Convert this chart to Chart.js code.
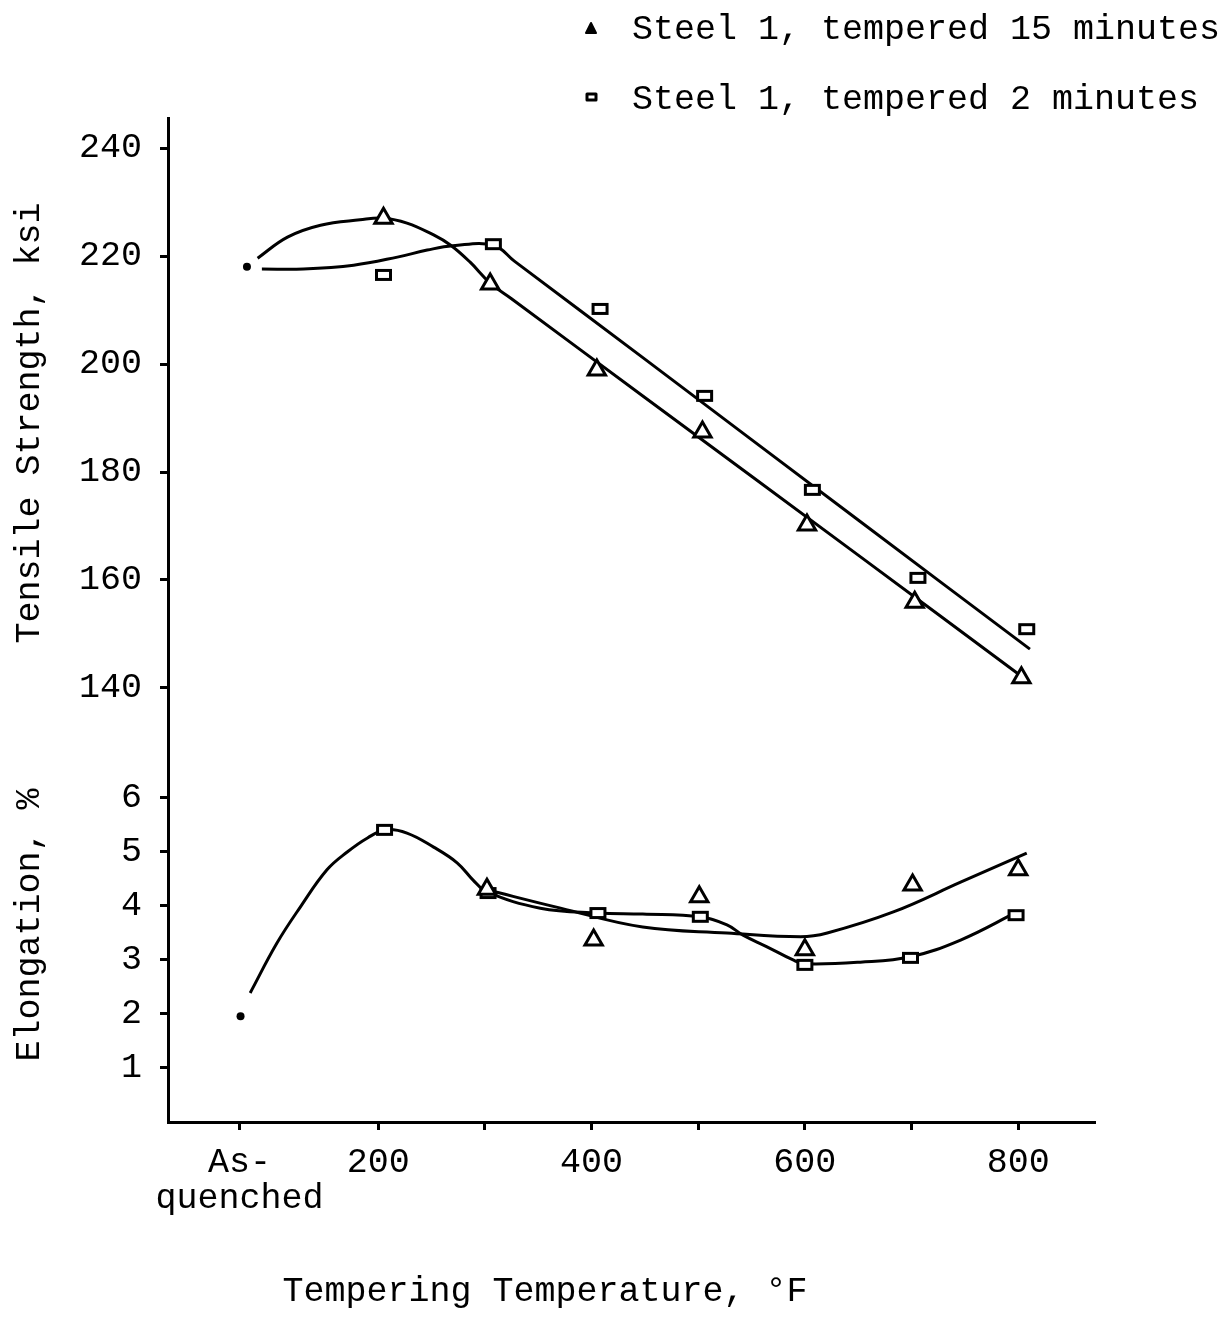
<!DOCTYPE html>
<html>
<head>
<meta charset="utf-8">
<script src="https://cdn.jsdelivr.net/npm/chart.js@4.4.0/dist/chart.umd.min.js"></script>
<style>
  html, body { margin: 0; padding: 0; background: #fff; }
</style>
</head>
<body>
<canvas id="c" width="1230" height="1317"></canvas>
<script>
// --- data ---
const AQ = 70; // where "As-quenched" sits on the temperature axis
const xTicks = [AQ, 200, 300, 400, 500, 600, 700, 800];
const xLabels = { 70: ['As-', 'quenched'], 200: '200', 400: '400', 600: '600', 800: '800' };
const tensileTicks = [140, 160, 180, 200, 220, 240];
const elongTicks = [1, 2, 3, 4, 5, 6];

const legend15 = 'Steel 1, tempered 15 minutes';
const legend2 = 'Steel 1, tempered 2 minutes';
const tensileTitle = 'Tensile Strength, ksi';
const elongTitle = 'Elongation, %';
const xTitle = 'Tempering Temperature, °F';

// as-quenched condition
const aqTensX = [77];
const aqTensY = [218.0];
const aqElongX = [71];
const aqElongY = [1.96];

// tempered 15 minutes (triangles)
const t15TensX = [205, 305, 405, 504, 602, 703, 803];
const t15TensY = [227.0, 214.8, 198.9, 187.4, 170.2, 155.9, 141.9];
const t15ElongX = [302, 402, 501, 600, 701, 800];
const t15ElongY = [4.31, 3.37, 4.17, 3.19, 4.39, 4.67];

// tempered 2 minutes (squares)
const t2TensX = [205, 308, 408, 506, 607, 706, 808];
const t2TensY = [216.5, 222.2, 210.2, 194.1, 176.7, 160.4, 150.9];
const t2ElongX = [206, 303, 406, 502, 600, 699, 798];
const t2ElongY = [5.41, 4.24, 3.87, 3.80, 2.91, 3.04, 3.83];

// hand drawn curves
const fit15TensX = [87, 115, 146, 183, 205, 227, 252, 268, 286, 305, 325, 450, 650, 809];
const fit15TensY = [219.6, 223.5, 225.7, 226.7, 227.0, 226.1, 223.9, 222.0, 218.9, 215.0, 212.1, 193.8, 164.6, 141.3];
const fit2TensX = [91, 130, 177, 218, 246, 270, 308, 328, 450, 650, 811];
const fit2TensY = [217.6, 217.6, 218.3, 219.8, 221.1, 221.9, 222.0, 219.0, 200.9, 171.1, 147.2];
const fit2ElongX = [80, 105, 127, 152, 171, 190, 207, 227, 252, 274, 289, 302, 352, 406, 448, 502, 527, 542, 565, 589, 600, 652, 699, 746, 799];
const fit2ElongY = [2.39, 3.31, 3.98, 4.67, 5.0, 5.26, 5.41, 5.35, 5.09, 4.80, 4.48, 4.26, 3.96, 3.87, 3.85, 3.80, 3.65, 3.46, 3.24, 3.0, 2.93, 2.96, 3.06, 3.37, 3.89];
const fit15ElongX = [302, 371, 448, 527, 596, 621, 683, 746, 808];
const fit15ElongY = [4.30, 3.96, 3.61, 3.50, 3.43, 3.50, 3.89, 4.44, 4.98];

// --- helpers ---
const ink = '#000';
const FONT = '"Liberation Mono", "Courier New", monospace';
const pts = (xs, ys) => xs.map((x, i) => ({ x: x, y: ys[i] }));

// open rectangle marker, wider than tall like the typed ones
function squareMark() {
    const c = document.createElement('canvas');
    c.width = 19; c.height = 14;
    const g = c.getContext('2d');
    g.fillStyle = '#fff';
    g.fillRect(2, 2, 15, 10);
    g.lineWidth = 3;
    g.strokeStyle = ink;
    g.strokeRect(2.5, 2.5, 14, 9);
    return c;
}
const sq = squareMark();

function markers(data, axis, style) {
    return {
        data: data, yAxisID: axis, showLine: false,
        pointStyle: style, pointRadius: 10, pointBorderWidth: 3,
        pointBorderColor: ink, pointBackgroundColor: '#fff'
    };
}
function curve(data, axis) {
    return {
        data: data, yAxisID: axis, borderColor: ink, borderWidth: 3,
        pointRadius: 0, tension: 0.4, fill: false
    };
}
function dot(data, axis) {
    return {
        data: data, yAxisID: axis, showLine: false,
        pointStyle: 'circle', pointRadius: 4, pointBorderWidth: 0, pointBackgroundColor: ink
    };
}

const tickFont = { family: FONT, size: 35, lineHeight: 1.05 };
const titleFont = { family: FONT, size: 35, lineHeight: 1 };
const grid = { drawOnChartArea: false, drawTicks: true, tickLength: 8, tickWidth: 3, tickColor: ink };
const border = { color: ink, width: 3 };

// legend + x title drawn straight on the canvas
const extras = {
    id: 'extras',
    afterDraw(chart) {
        const ctx = chart.ctx;
        ctx.save();
        ctx.fillStyle = ink;
        ctx.strokeStyle = ink;
        // triangle key
        ctx.lineJoin = 'round';
        ctx.lineWidth = 2;
        ctx.beginPath();
        ctx.moveTo(591, 23); ctx.lineTo(596, 33); ctx.lineTo(586, 33); ctx.closePath();
        ctx.fill(); ctx.stroke();
        // square key
        ctx.lineWidth = 3;
        ctx.strokeRect(587, 94, 9, 6);

        ctx.font = '35px ' + FONT;
        ctx.textBaseline = 'middle';
        ctx.textAlign = 'left';
        ctx.fillText(legend15, 632, 30);
        ctx.fillText(legend2, 632, 100);
        ctx.textAlign = 'center';
        ctx.fillText(xTitle, 545, 1292);
        ctx.restore();
    }
};

new Chart(document.getElementById('c'), {
    type: 'line',
    data: {
        datasets: [
            markers(pts(t15TensX, t15TensY), 'yTen', 'triangle'),
            markers(pts(t2TensX, t2TensY), 'yTen', sq),
            markers(pts(t15ElongX, t15ElongY), 'yEl', 'triangle'),
            markers(pts(t2ElongX, t2ElongY), 'yEl', sq),
            dot(pts(aqTensX, aqTensY), 'yTen'),
            dot(pts(aqElongX, aqElongY), 'yEl'),
            curve(pts(fit15TensX, fit15TensY), 'yTen'),
            curve(pts(fit2TensX, fit2TensY), 'yTen'),
            curve(pts(fit2ElongX, fit2ElongY), 'yEl'),
            curve(pts(fit15ElongX, fit15ElongY), 'yEl')
        ]
    },
    options: {
        responsive: false,
        animation: false,
        layout: { padding: { left: 12.5, right: 135, top: 118, bottom: 85.5 } },
        plugins: { legend: { display: false }, tooltip: { enabled: false } },
        scales: {
            x: {
                type: 'linear', min: 3, max: 872,
                afterBuildTicks: s => { s.ticks = xTicks.map(v => ({ value: v })); },
                ticks: {
                    callback: v => xLabels[v] ?? '', color: ink, font: tickFont,
                    padding: 14, maxRotation: 0, autoSkip: false
                },
                grid: grid, border: border
            },
            // stacked scales: the first one listed ends up at the bottom
            yEl: {
                type: 'linear', position: 'left', stack: 'y', stackWeight: 394,
                min: 0, max: 7.296,
                afterBuildTicks: s => { s.ticks = elongTicks.map(v => ({ value: v })); },
                ticks: { color: ink, font: tickFont, padding: 18 },
                title: { display: true, text: elongTitle, color: ink, font: titleFont, padding: { top: 0, bottom: 13.5 } },
                grid: grid, border: border
            },
            yTen: {
                type: 'linear', position: 'left', stack: 'y', stackWeight: 610,
                min: 132.59, max: 245.56,
                afterBuildTicks: s => { s.ticks = tensileTicks.map(v => ({ value: v })); },
                ticks: { color: ink, font: tickFont, padding: 18 },
                title: { display: true, text: tensileTitle, color: ink, font: titleFont, padding: { top: 0, bottom: 13.5 } },
                grid: grid, border: border
            }
        }
    },
    plugins: [extras]
});
</script>
</body>
</html>
